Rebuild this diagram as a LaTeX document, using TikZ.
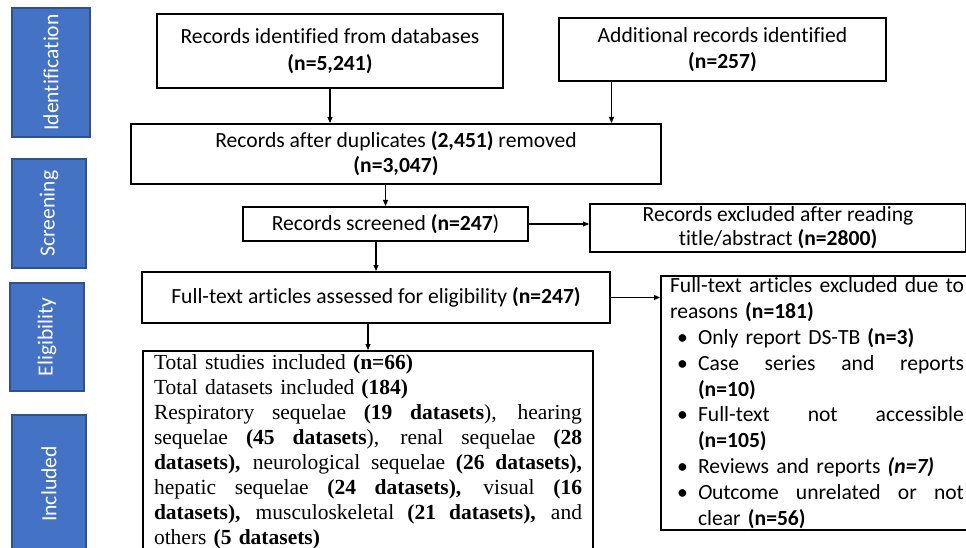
\documentclass[tikz,border=0pt]{standalone}
\usepackage{fontspec}
\setmainfont{Carlito}[Ligatures=NoCommon]
\newfontfamily\timesfont{Liberation Serif}
\usetikzlibrary{arrows.meta,calc}
\definecolor{stageblue}{HTML}{4472C4}
\definecolor{stageedge}{HTML}{2F528F}

\begin{document}
\begin{tikzpicture}[x=1pt,y=-1pt]
\tikzset{box/.style = {draw, line width=2pt, inner sep=0pt, align=center, font=\fontsize{21.6}{26}\selectfont},
  stage/.style = {draw=stageedge, fill=stageblue, line width=2pt, rotate=90, inner sep=0pt, text=white, font=\fontsize{21.6}{24}\selectfont},
  arr/.style = {-{Triangle[length=6pt,width=5pt]}, line width=1.1pt}}
\def\jl#1#2{{\spaceskip=\fontdimen2\font plus 1fil\makebox[#1pt][s]{#2}}}
\def\bul{\makebox[28pt][l]{\hspace{7pt}\textbullet}}

\useasboundingbox (0,0) rectangle (966,548);

\node[stage, minimum width=129pt, minimum height=78pt] (idf) at (51,72.5) {Identification};
\node[stage, minimum width=109pt, minimum height=74pt] (scrn) at (49,213.5) {Screening};
\node[stage, minimum width=108pt, minimum height=74pt] (elig) at (47,337) {Eligibility};
\node[stage, minimum width=138pt, minimum height=74pt] (incl) at (49,484) {Included};

\node[box, minimum width=346pt, minimum height=74pt, font=\fontsize{21.6}{27}\selectfont] (db) at (330,51) {Records identified from databases\\\textbf{(n=5,241)}};
\node[box, minimum width=327pt, minimum height=63pt] (addl) at (722.5,49.5) {Additional records identified\\\textbf{(n=257)}};
\node[box, minimum width=530pt, minimum height=60pt, font=\fontsize{21.6}{25}\selectfont] (dup) at (396,154) {Records after duplicates \textbf{(2,451)} removed\\\textbf{(n=3,047)}};
\node[box, minimum width=285pt, minimum height=34pt] (scr) at (385.5,224) {Records screened \textbf{(n=247})};
\node[box, minimum width=376pt, minimum height=48pt, font=\fontsize{21.6}{24}\selectfont] (excl) at (778,228) {Records excluded after reading\\title/abstract \textbf{(n=2800)}};
\node[box, minimum width=468pt, minimum height=51pt] (ft) at (376,297.5) {Full-text articles assessed for eligibility \textbf{(n=247)}};

\node[box, anchor=north west, align=left, inner xsep=9pt, inner ysep=2pt, text width=300pt, font=\fontsize{21.6}{25.8}\selectfont] (exc2) at (660,275) {%
\jl{294}{Full-text articles excluded due to}\\
reasons \textbf{(n=181)}\\
\bul Only report DS-TB \textbf{(n=3)}\\
\bul\jl{266}{Case series and reports}\\
\hspace*{28pt}\textbf{(n=10)}\\
\bul\jl{266}{Full-text not accessible}\\
\hspace*{28pt}\textbf{(n=105)}\\
\bul Reviews and reports \textbf{\textit{(n=7)}}\\
\bul\jl{266}{\textit{O}utcome unrelated or not}\\
\hspace*{28pt}clear \textbf{(n=56)}};

\node[box, anchor=north west, align=left, inner xsep=11pt, inner ysep=4pt, text width=428pt, font=\timesfont\fontsize{21.5}{25}\selectfont] (inc) at (142,350) {%
Total studies included \textbf{(n=66)}\\
Total datasets included \textbf{(184)}\\
\jl{428}{Respiratory sequelae \textbf{(19 datasets}), hearing}\\
\jl{428}{sequelae \textbf{(45 datasets}), renal sequelae \textbf{(28}}\\
\jl{428}{\textbf{datasets),} neurological sequelae \textbf{(26 datasets),}}\\
\jl{428}{hepatic sequelae \textbf{(24 datasets),} visual \textbf{(16}}\\
\jl{428}{\textbf{datasets),} musculoskeletal \textbf{(21 datasets),} and}\\
others \textbf{(5 datasets)}};

\coordinate (addlout) at ([xshift=-111pt]addl.south);

\draw[arr] (db.south) -- (db.south |- dup.north);
\draw[arr] (addlout) -- (addlout |- dup.north);
\draw[arr] (dup.south -| scr.north) -- (scr.north);
\draw[arr] (scr.east) -- (scr.east -| excl.west);
\draw[arr] (scr.south -| ft.north) -- (ft.north);
\draw[arr] (ft.east) -- (ft.east -| exc2.west);
\draw[arr] (ft.south -| inc.north) -- (inc.north);
\end{tikzpicture}
\end{document}
